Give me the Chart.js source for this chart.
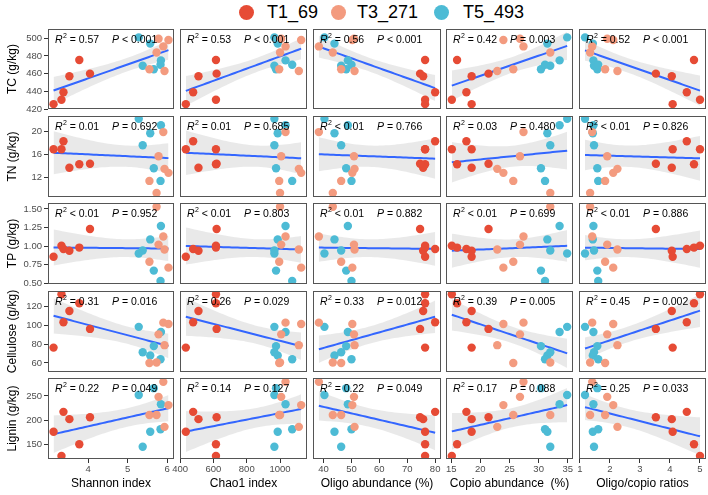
<!DOCTYPE html>
<html>
<head>
<meta charset="utf-8">
<script src="https://cdn.jsdelivr.net/npm/chart.js@4.4.1/dist/chart.umd.min.js"></script>
<style>
  body { margin: 0; width: 708px; height: 495px; position: relative; overflow: hidden; background: #fff;
         font-family: "Liberation Sans", Arial, sans-serif; }
  .cell { position: absolute; }
  .leg-dot { position: absolute; width: 15px; height: 15px; border-radius: 50%; top: 5px; }
  .leg-txt { position: absolute; top: 3px; font-size: 18px; line-height: 18px; color: #000; white-space: nowrap; }
</style>
</head>
<body>
<div id="legend"></div>
<script>
// 18 samples: 6 per treatment, same order in every variable
const groupNames = ["T1_69", "T3_271", "T5_493"];
const groupColors = ["#E64B35", "#F39B7F", "#4DBBD5"];
const sampleGroup = [0, 0, 0, 0, 0, 0, 1, 1, 1, 1, 1, 1, 2, 2, 2, 2, 2, 2];

// x variables (columns)
const shannon = [3.13, 3.33, 3.38, 3.53, 3.78, 4.05, 5.78, 6.03, 5.90, 5.73, 5.55, 5.93, 5.28, 5.57, 5.38, 5.66, 5.84, 5.83];
const chao1 = [434, 615, 478, 510, 615, 619, 1007, 1127, 1033, 1000, 995, 1113, 966, 986, 966, 976, 1033, 1073];
const oligo = [76.4, 76.4, 80.0, 75.7, 76.4, 74.6, 50.9, 50.3, 38.3, 43.3, 46.3, 51.1, 40.3, 43.9, 46.3, 48.1, 48.7, 50.0];
const copio = [18.5, 15.1, 17.6, 18.5, 16.0, 21.4, 26.8, 23.95, 27.4, 32.0, 25.65, 22.9, 34.9, 31.5, 32.0, 30.4, 33.6, 31.1];
const ratio = [4.09, 5.00, 4.56, 4.06, 4.80, 3.53, 1.91, 2.11, 1.41, 1.34, 1.84, 2.25, 1.17, 1.43, 1.47, 1.58, 1.45, 1.61];

// y variables (rows)
const tc = [425.5, 430.5, 439, 457, 475.4, 460, 499.4, 498, 490.8, 484, 465, 463, 501, 494, 469, 465, 475, 470];
const tn = [16.9, 16.9, 18.3, 13.7, 14.3, 14.4, 15.7, 12.8, 19.9, 9.3, 11.4, 13.5, 22.2, 19.7, 17.6, 13.6, 21.1, 11.4];
const tp = [0.856, 1.004, 0.96, 0.937, 0.98, 1.23, 1.02, 0.71, 1.13, 1.53, 0.79, 0.955, 0.90, 1.09, 0.94, 0.67, 1.27, 0.53];
const cellulose = [76.4, 133.2, 103.4, 115.4, 123.6, 96.3, 90.5, 101.5, 103, 60.5, 60, 79, 98.5, 68, 71.5, 78, 93, 64];
const lignin = [176, 126, 217, 202, 150, 206, 248, 231, 279, 210.5, 210.5, 186, 252, 176, 145, 266, 232.6, 181];

const xVars = [shannon, chao1, oligo, copio, ratio];
const yVars = [tc, tn, tp, cellulose, lignin];

const xTitles = ["Shannon index", "Chao1 index", "Oligo abundance (%)", "Copio abundance  (%)", "Oligo/copio ratios"];
const yTitles = ["TC (g/kg)", "TN (g/kg)", "TP (g/kg)", "Cellulose (g/kg)", "Lignin (g/kg)"];

const xTicks = [[4, 5, 6], [400, 600, 800, 1000], [40, 50, 60, 70, 80], [15, 20, 25, 30, 35], [1, 2, 3, 4, 5]];
const yTicks = [[420, 440, 460, 480, 500], [12, 16, 20], [0.5, 0.75, 1, 1.25, 1.5], [60, 80, 100, 120], [150, 200, 250]];
const xRanges = [[2.99, 6.17], [399, 1162], [36.2, 82.1], [14.1, 35.9], [0.97, 5.2]];
const yRanges = [[420, 510.5], [8.6, 22.7], [0.49, 1.58], [50.4, 136.7], [119.6, 287]];

// stats labels, row by row
const r2Labels = [
  ["= 0.57", "= 0.53", "= 0.56", "= 0.42", "= 0.52"],
  ["= 0.01", "= 0.01", "< 0.01", "= 0.03", "< 0.01"],
  ["< 0.01", "< 0.01", "< 0.01", "< 0.01", "< 0.01"],
  ["= 0.31", "= 0.26", "= 0.33", "= 0.39", "= 0.45"],
  ["= 0.22", "= 0.14", "= 0.22", "= 0.17", "= 0.25"],
];
const pLabels = [
  ["< 0.001", "< 0.001", "< 0.001", "= 0.003", "< 0.001"],
  ["= 0.692", "= 0.685", "= 0.766", "= 0.480", "= 0.826"],
  ["= 0.952", "= 0.803", "= 0.882", "= 0.699", "= 0.886"],
  ["= 0.016", "= 0.029", "= 0.012", "= 0.005", "= 0.002"],
  ["= 0.049", "= 0.127", "= 0.049", "= 0.088", "= 0.033"],
];

// panel grid geometry
const colLeft = [48, 180, 313, 446, 579];
const colWidth = [126, 127, 128, 127, 127];
const rowTop = [29, 116, 203, 291, 378];
const rowHeight = [80, 81, 81, 81, 81];

const FONT = '"Liberation Sans", Arial, Helvetica, sans-serif';
Chart.defaults.font.family = FONT;
Chart.defaults.animation = false;

// legend
const legendPos = [[239, 267], [331, 357], [434, 463]];
const legend = document.getElementById("legend");
groupNames.forEach((g, i) => {
  const d = document.createElement("div");
  d.className = "leg-dot";
  d.style.left = legendPos[i][0] + "px";
  d.style.background = groupColors[i];
  legend.appendChild(d);
  const t = document.createElement("div");
  t.className = "leg-txt";
  t.style.left = legendPos[i][1] + "px";
  t.textContent = g;
  legend.appendChild(t);
});

// lm fit with 95% confidence band (as geom_smooth(method = "lm"))
function lmFit(xs, ys) {
  const n = xs.length;
  const mx = xs.reduce((a, b) => a + b, 0) / n;
  const my = ys.reduce((a, b) => a + b, 0) / n;
  let sxx = 0, sxy = 0;
  for (let i = 0; i < n; i++) { sxx += (xs[i] - mx) ** 2; sxy += (xs[i] - mx) * (ys[i] - my); }
  const b = sxy / sxx, a = my - b * mx;
  let sse = 0;
  for (let i = 0; i < n; i++) sse += (ys[i] - a - b * xs[i]) ** 2;
  const s = Math.sqrt(sse / (n - 2));
  const t = 2.1199; // t(0.975, df = 16)
  const lo = Math.min(...xs), hi = Math.max(...xs);
  const line = [], lower = [], upper = [];
  for (let k = 0; k <= 40; k++) {
    const x = lo + (hi - lo) * k / 40;
    const yh = a + b * x;
    const se = s * Math.sqrt(1 / n + (x - mx) ** 2 / sxx);
    line.push({ x, y: yh });
    lower.push({ x, y: yh - t * se });
    upper.push({ x, y: yh + t * se });
  }
  return { line, lower, upper };
}

// stats text + panel border
const panelDecor = {
  id: "panelDecor",
  afterDraw(chart, args, opts) {
    const { ctx, chartArea: a } = chart;
    ctx.save();
    ctx.fillStyle = "#000";
    ctx.textBaseline = "alphabetic";
    const base = a.top + 14;
    let x = a.left + 7;
    ctx.font = "italic 10.5px " + FONT;
    ctx.fillText("R", x, base);
    x += ctx.measureText("R").width + 0.3;
    ctx.font = "7px " + FONT;
    ctx.fillText("2", x, base - 5);
    x += ctx.measureText("2").width;
    ctx.font = "10.5px " + FONT;
    ctx.fillText(" " + opts.r2, x, base);

    x = a.left + 64;
    ctx.font = "italic 10.5px " + FONT;
    ctx.fillText("P", x, base);
    x += ctx.measureText("P").width;
    ctx.font = "10.5px " + FONT;
    ctx.fillText(" " + opts.p, x, base);

    ctx.strokeStyle = "#555";
    ctx.lineWidth = 1;
    ctx.strokeRect(Math.round(a.left) + 0.5, Math.round(a.top) + 0.5,
                   Math.round(a.right - a.left) - 1, Math.round(a.bottom - a.top) - 1);
    ctx.restore();
  },
};

const M = 12; // spare room around each panel for overflowing labels

for (let r = 0; r < 5; r++) {
  for (let c = 0; c < 5; c++) {
    const showY = c === 0, showX = r === 4;
    const padL = showY ? 0 : M;
    const left = showY ? 0 : colLeft[c] - M;
    const top = rowTop[r] - 6;
    const w = (showY ? 48 : M) + colWidth[c] + M;
    const h = 6 + rowHeight[r] + (showX ? 36 : 6);

    const div = document.createElement("div");
    div.className = "cell";
    div.style.left = left + "px";
    div.style.top = top + "px";
    const cv = document.createElement("canvas");
    cv.width = w; cv.height = h;
    cv.style.width = w + "px"; cv.style.height = h + "px";
    div.appendChild(cv);
    document.body.appendChild(div);

    const xs = xVars[c], ys = yVars[r];
    const fit = lmFit(xs, ys);
    const groupSets = groupNames.map((g, gi) => ({
      type: "scatter",
      label: g,
      data: xs.map((x, i) => ({ x, y: ys[i] })).filter((p, i) => sampleGroup[i] === gi),
      backgroundColor: groupColors[gi],
      borderWidth: 0,
      pointRadius: 4.2,
      clip: 0,
      order: 0,
    }));

    new Chart(cv, {
      type: "scatter",
      data: {
        datasets: [
          { type: "line", data: fit.lower, borderWidth: 0, pointRadius: 0, fill: false, clip: 0, order: 3 },
          { type: "line", data: fit.upper, borderWidth: 0, pointRadius: 0, fill: "-1",
            backgroundColor: "rgba(153,153,153,0.22)", clip: 0, order: 3 },
          { type: "line", data: fit.line, borderColor: "#3366FF", borderWidth: 2, pointRadius: 0,
            fill: false, tension: 0, clip: 0, order: 2 },
          ...groupSets,
        ],
      },
      options: {
        responsive: false,
        events: [],
        layout: { padding: { left: padL, right: M, top: 6, bottom: showX ? 0 : 6 } },
        plugins: {
          legend: { display: false },
          tooltip: { enabled: false },
          panelDecor: { r2: r2Labels[r][c], p: pLabels[r][c] },
        },
        scales: {
          x: {
            type: "linear",
            display: showX,
            min: xRanges[c][0], max: xRanges[c][1],
            afterBuildTicks: (s) => { s.ticks = xTicks[c].map(v => ({ value: v })); },
            afterFit: (s) => {
              s.height = showX ? 36 : 0;
              s.paddingLeft = 0; s.paddingRight = 0;
            },
            ticks: {
              font: { size: 9.5 }, color: "#4D4D4D", padding: 1, maxRotation: 0, autoSkip: false,
              callback: (v) => String(v),
            },
            grid: { drawOnChartArea: false, drawTicks: true, tickLength: 4, tickColor: "#333" },
            border: { display: false },
            title: { display: showX, text: xTitles[c], font: { size: 12 }, color: "#000",
                     padding: { top: 0, bottom: 4 } },
          },
          y: {
            type: "linear",
            display: showY,
            min: yRanges[r][0], max: yRanges[r][1],
            afterBuildTicks: (s) => { s.ticks = yTicks[r].map(v => ({ value: v })); },
            afterFit: (s) => {
              s.width = showY ? 48 : 0;
              s.paddingTop = 0; s.paddingBottom = 0;
            },
            ticks: {
              font: { size: 9.5 }, color: "#4D4D4D", padding: 2, autoSkip: false,
              callback: (v) => r === 2 ? Number(v).toFixed(2) : String(v),
            },
            grid: { drawOnChartArea: false, drawTicks: true, tickLength: 4, tickColor: "#333" },
            border: { display: false },
            title: { display: showY, text: yTitles[r], font: { size: 12 }, color: "#000",
                     padding: { top: 5, bottom: 0 } },
          },
        },
      },
      plugins: [panelDecor],
    });
  }
}
</script>
</body>
</html>
